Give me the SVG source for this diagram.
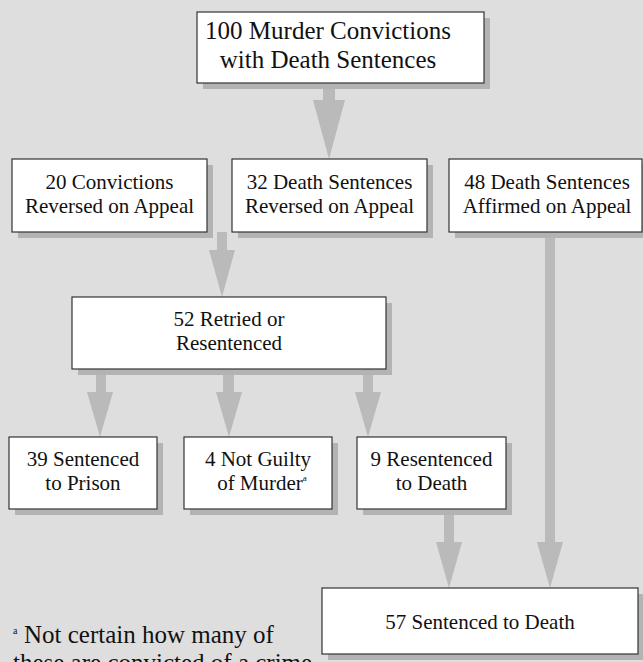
<svg xmlns="http://www.w3.org/2000/svg" width="643" height="662" viewBox="0 0 643 662">
<style>
.bx{fill:#ffffff;stroke:#333333;stroke-width:1.2}
.sh{fill:#b3b3b3}
text{font-family:'Liberation Serif','DejaVu Serif',serif;font-size:21px;fill:#111111;text-anchor:middle}
.tl{font-size:25px}
.st{text-anchor:start}
.ar{fill:#bababa}
</style>
<rect x="0" y="0" width="643" height="662" fill="#dedede"/>
<g id="connectors">
  <polygon class="ar" points="323,83 335,83 335,100 345,100 329,159 313,100 323,100"/>
  <polygon class="ar" points="217,232 227,232 227,250 235,250 222,297 209,250 217,250"/>
  <polygon class="ar" points="96,369 106,369 106,392 113,392 100,437 87,392 96,392"/>
  <polygon class="ar" points="223,369 234,369 234,392 242,392 229,437 216,392 223,392"/>
  <polygon class="ar" points="363,369 373,369 373,392 381,392 368,437 355,392 363,392"/>
  <polygon class="ar" points="444,509 454,509 454,542 462,542 449,588 436,542 444,542"/>
  <polygon class="ar" points="545,232 555,232 555,542 563,542 550,588 537,542 545,542"/>
</g>
<g id="n100">
  <rect class="sh" x="203" y="18" width="287" height="71"/>
  <rect class="bx" x="197" y="12" width="287" height="71"/>
  <text class="tl" x="328" y="39">100 Murder Convictions</text>
  <text class="tl" x="328" y="68">with Death Sentences</text>
</g>
<g id="n20">
  <rect class="sh" x="18" y="165" width="195" height="73"/>
  <rect class="bx" x="12" y="159" width="195" height="73"/>
  <text x="109.5" y="189">20 Convictions</text>
  <text x="109.5" y="213">Reversed on Appeal</text>
</g>
<g id="n32">
  <rect class="sh" x="238" y="165" width="195" height="73"/>
  <rect class="bx" x="232" y="159" width="195" height="73"/>
  <text x="329.5" y="189">32 Death Sentences</text>
  <text x="329.5" y="213">Reversed on Appeal</text>
</g>
<g id="n48">
  <rect class="sh" x="455" y="165" width="194" height="73"/>
  <rect class="bx" x="449" y="159" width="193" height="73"/>
  <text x="547" y="189">48 Death Sentences</text>
  <text x="547" y="213">Affirmed on Appeal</text>
</g>
<g id="n52">
  <rect class="sh" x="78" y="303" width="314" height="72"/>
  <rect class="bx" x="72" y="297" width="314" height="72"/>
  <text x="229" y="326">52 Retried or</text>
  <text x="229" y="350">Resentenced</text>
</g>
<g id="n39">
  <rect class="sh" x="15" y="443" width="148" height="72"/>
  <rect class="bx" x="9" y="437" width="148" height="72"/>
  <text x="83" y="466">39 Sentenced</text>
  <text x="83" y="490">to Prison</text>
</g>
<g id="n4">
  <rect class="sh" x="190" y="443" width="148" height="72"/>
  <rect class="bx" x="184" y="437" width="148" height="72"/>
  <text x="258" y="466">4 Not Guilty</text>
  <text x="262" y="490">of Murder<tspan font-size="9" dy="-9">a</tspan></text>
</g>
<g id="n9">
  <rect class="sh" x="363" y="443" width="149" height="72"/>
  <rect class="bx" x="357" y="437" width="149" height="72"/>
  <text x="431.5" y="466">9 Resentenced</text>
  <text x="431.5" y="490">to Death</text>
</g>
<g id="n57">
  <rect class="sh" x="328" y="594" width="316" height="66"/>
  <rect class="bx" x="322" y="588" width="316" height="66"/>
  <text x="480" y="629">57 Sentenced to Death</text>
</g>
<g id="footnote">
  <text class="st" x="13" y="634" style="font-size:10px">a</text>
  <text class="tl st" x="24" y="643">Not certain how many of</text>
  <text class="tl st" x="13" y="671">these are convicted of a crime</text>
</g>
</svg>
